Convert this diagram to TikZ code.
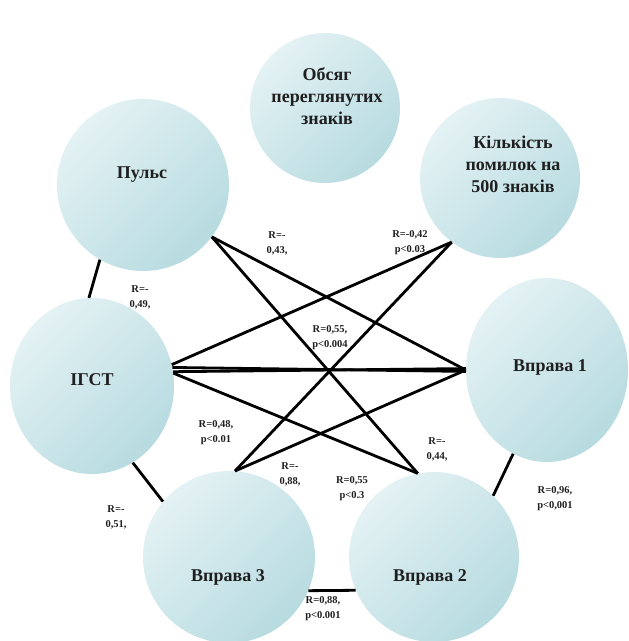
\documentclass[tikz,border=0pt]{standalone}
\usepackage{fontspec}
\setmainfont{Liberation Serif}
\usetikzlibrary{shapes.geometric}
\definecolor{cl}{HTML}{E4F2F4}
\definecolor{cd}{HTML}{B7DBE0}
\begin{document}
\begin{tikzpicture}[x=1pt,y=-1pt,
  bub/.style={circle, minimum size=#1, inner sep=0pt, left color=cl, right color=cd, shading angle=45},
  ebub/.style 2 args={ellipse, minimum width=#1, minimum height=#2, inner sep=0pt, left color=cl, right color=cd, shading angle=45},
  ctext/.style={font=\fontsize{18}{22}\selectfont\bfseries, align=center, text=black!88},
  lab/.style={font=\fontsize{10.5}{15}\selectfont\bfseries, align=center, text=black!88},
  conn/.style={line width=2.8pt, black}]
\useasboundingbox (0,0) rectangle (629,641);
% bubbles
\node[bub=150] (obs) at (325,108) {};
\node[bub=160] (kilk) at (500,178) {};
\node[bub=172] (puls) at (143,185) {};
\node[ebub={164}{176}] (igst) at (92,386) {};
\node[ebub={162}{184}] (vp1) at (547,370) {};
\node[bub=170] (vp2) at (434,557) {};
\node[bub=172] (vp3) at (229,557) {};
% bubble texts
\node[ctext] (obsT) at (327,96) {Обсяг\\переглянутих\\знаків};
\node[ctext] (kilkT) at (513,164) {Кількість\\помилок на\\500 знаків};
\node[ctext] (pulsT) at (142,175) {Пульс};
\node[ctext] (igstT) at (92,380) {ІГСТ};
\node[ctext] (vp1T) at (550,367) {Вправа 1};
\node[ctext] (vp2T) at (430,577) {Вправа 2};
\node[ctext] (vp3T) at (228,577) {Вправа 3};
% long connectors
\draw[conn] (puls.-37) -- (vp1.180);
\draw[conn] (puls.-37) -- (vp2.101);
\draw[conn] (kilk.-127) -- (igst.15);
\draw[conn] (kilk.-127) -- (vp3.86);
\draw[conn] (igst.13) -- (vp1.181);
\draw[conn] (igst.10) -- (vp1.179);
\draw[conn] (igst.9) -- (vp2.101);
\draw[conn] (vp3.86) -- (vp1.180);
% short connectors
\draw[conn] (puls.-120) -- (igst.92);
\draw[conn] (igst.-62) -- (vp3.140);
\draw[conn] (vp3.-23) -- (vp2.203);
\draw[conn] (vp1.-112) -- (vp2.46);
% labels
\node[lab] (l1) at (277,243) {R=-\\0,43,};
\node[lab] (l2) at (410,243) {R=-0,42\\p<0.03};
\node[lab] (l3) at (140,297) {R=-\\0,49,};
\node[lab] (l4) at (330,338) {R=0,55,\\p<0.004};
\node[lab] (l5) at (216,433) {R=0,48,\\p<0.01};
\node[lab] (l6) at (437,449) {R=-\\0,44,};
\node[lab] (l7) at (290,474) {R=-\\0,88,};
\node[lab] (l8) at (352,489) {R=0,55\\p<0.3};
\node[lab] (l9) at (555,499) {R=0,96,\\p<0,001};
\node[lab] (l10) at (116,517) {R=-\\0,51,};
\node[lab] (l11) at (323,609) {R=0,88,\\p<0.001};
\end{tikzpicture}
\end{document}
